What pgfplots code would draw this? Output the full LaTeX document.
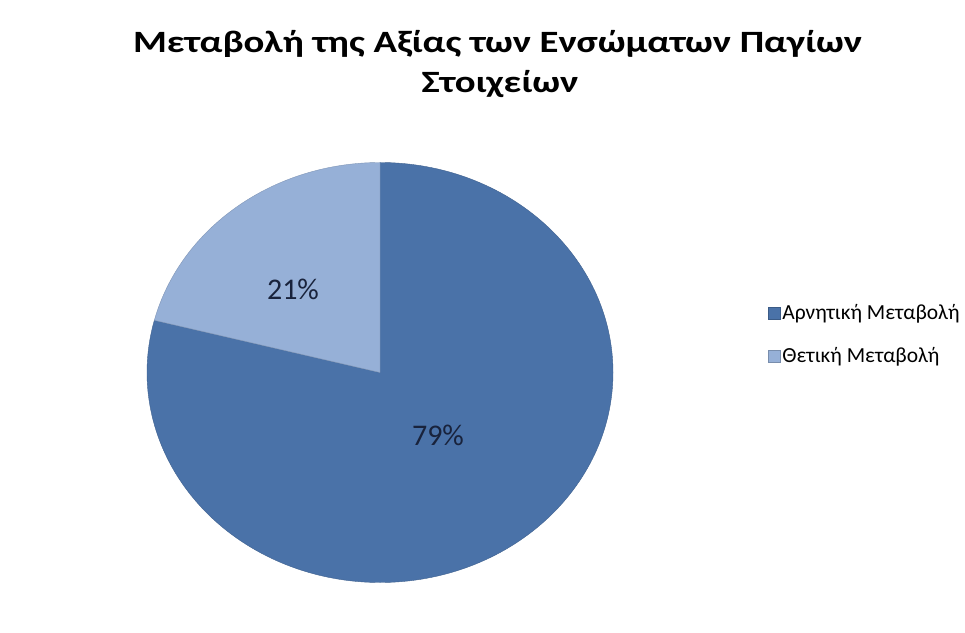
\documentclass[border=0pt]{standalone}
\usepackage{pgfplots}
\pgfplotsset{compat=1.18}
\usepackage{pgfplotstable}
\usepackage{fontspec}
\setmainfont{Carlito}
\definecolor{darkblue}{RGB}{74,114,168}
\definecolor{lightblue}{RGB}{150,176,215}
\definecolor{labeltext}{RGB}{25,35,60}
\pgfplotstableread{
label value
neg 79
pos 21
}\piedata
\pgfplotstablegetelem{0}{value}\of\piedata \let\vneg\pgfplotsretval
\pgfplotstablegetelem{1}{value}\of\piedata \let\vpos\pgfplotsretval
\begin{document}
\begin{tikzpicture}
\begin{axis}[
  width=965pt, height=632pt, scale only axis,
  xmin=0, xmax=965, ymin=0, ymax=632,
  hide axis, clip=false,
  legend style={at={(axis cs:768,297.5)}, anchor=west, draw=none, fill=none,
    inner sep=0pt, outer sep=0pt,
    font=\fontsize{21.5}{24}\selectfont, row sep=26pt,
    /tikz/every even column/.append style={column sep=2pt},
    nodes={inner xsep=2pt, inner ysep=0pt}},
  legend cell align=left,
  legend image code/.code={\path[#1] (0pt,-6pt) rectangle (12pt,6pt);},
]
\path (axis cs:0,0) rectangle (axis cs:965,632);
\pgfmathsetmacro{\angA}{90-3.6*\vneg}
\pgfmathsetmacro{\px}{380+233*cos(\angA)}
\pgfmathsetmacro{\py}{259.5+210*sin(\angA)}
\fill[darkblue, draw=darkblue!85!black, line width=0.4pt] (axis cs:380,259.5) -- (axis cs:380,469.5)
  arc[start angle=90, end angle=\angA, x radius=233, y radius=210] -- cycle;
\fill[lightblue, draw=lightblue!85!black, line width=0.4pt] (axis cs:380,259.5) -- (axis cs:\px,\py)
  arc[start angle=\angA, end angle=-270, x radius=233, y radius=210] -- cycle;
\node[font=\fontsize{30}{32}\selectfont, text=labeltext] at (axis cs:438,197) {79\%};
\node[font=\fontsize{30}{32}\selectfont, text=labeltext] at (axis cs:293,343) {21\%};
\node[font=\bfseries\fontsize{31}{39}\selectfont, xscale=1.25, anchor=base, inner sep=0pt] at (axis cs:497.5,579)
  {Μεταβολή της Αξίας των Ενσώματων Παγίων};
\node[font=\bfseries\fontsize{31}{39}\selectfont, xscale=1.25, anchor=base, inner sep=0pt] at (axis cs:500,539)
  {Στοιχείων};
\addlegendimage{fill=darkblue, draw=darkblue!80!black, line width=0.4pt}
\addlegendentry{Αρνητική Μεταβολή}
\addlegendimage{fill=lightblue, draw=lightblue!80!black, line width=0.4pt}
\addlegendentry{Θετική Μεταβολή}
\end{axis}
\end{tikzpicture}
\end{document}
